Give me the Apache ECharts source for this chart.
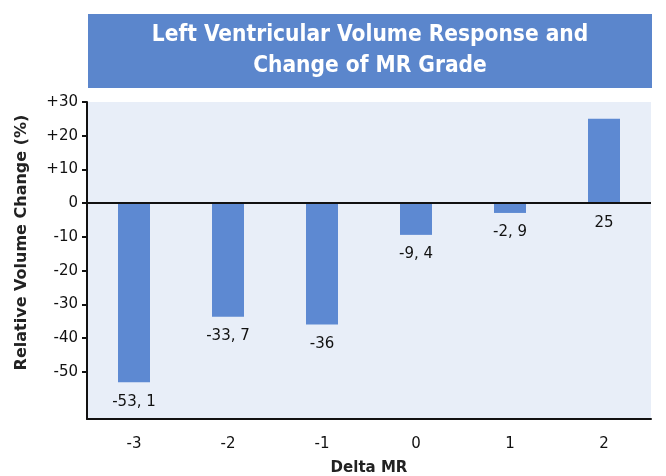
<!DOCTYPE html>
<html>
<head>
<meta charset="utf-8">
<script src="https://cdn.jsdelivr.net/npm/echarts@6/dist/echarts.min.js"></script>
<style>
html,body{margin:0;padding:0;background:#fff;}
#c{width:666px;height:476px;}
</style>
</head>
<body>
<div id="c"></div>
<script>
const titleLines = ['Left Ventricular Volume Response and', 'Change of MR Grade'];
const categories = ['-3', '-2', '-1', '0', '1', '2'];
const values = [-53.1, -33.7, -36, -9.4, -2.9, 25];
const yTicks = [30, 20, 10, 0, -10, -20, -30, -40, -50];
const yAxisTitle = 'Relative Volume Change (%)';
const xAxisTitle = 'Delta MR';

const chart = echarts.init(document.getElementById('c'), null, {renderer: 'canvas'});
const FONT = 'DejaVu Sans';
const fmtVal = v => String(v).replace('.', ', ');

chart.setOption({
  animation: false,
  graphic: [
    {type: 'rect', x: 88, y: 14, shape: {width: 564, height: 74}, style: {fill: '#5b86cc'}},
    {type: 'text', x: 370, y: 51, z: 10,
     style: {text: titleLines.join('\n'), fill: '#fff', font: 'bold 22.5px "DejaVu Sans Condensed"',
       align: 'center', verticalAlign: 'middle', lineHeight: 31}}
  ],
  grid: {left: 87, right: 15, top: 102, bottom: 57, show: true, backgroundColor: '#e8eef8', borderWidth: 0,
    containLabel: false, outerBoundsMode: 'none'},
  xAxis: {
    type: 'category', data: categories,
    name: xAxisTitle, nameLocation: 'middle', nameGap: 42,
    nameTextStyle: {color: '#222', fontFamily: FONT, fontWeight: 'bold', fontSize: 15},
    axisLine: {onZero: false, lineStyle: {color: '#111', width: 2}},
    axisTick: {length: 5, lineStyle: {color: '#111', width: 2}},
    axisLabel: {color: '#111', fontFamily: FONT, fontSize: 15, margin: 18}
  },
  yAxis: {
    type: 'value', min: -64, max: 30,
    name: yAxisTitle, nameLocation: 'middle', nameGap: 57, nameRotate: 90,
    nameTextStyle: {color: '#222', fontFamily: FONT, fontWeight: 'bold', fontSize: 16, padding: [0, 0, 0, 36]},
    splitLine: {show: false},
    axisLine: {show: true, lineStyle: {color: '#111', width: 2}},
    axisTick: {show: true, length: 5, lineStyle: {color: '#111', width: 2}, customValues: yTicks},
    axisLabel: {color: '#111', fontFamily: FONT, fontSize: 15, margin: 9, customValues: yTicks,
      formatter: v => v > 0 ? '+' + v : String(v)}
  },
  series: [{
    type: 'bar',
    data: values,
    barWidth: 32,
    itemStyle: {color: '#5d89d2'},
    label: {show: true, position: 'bottom', distance: 12, color: '#111', fontFamily: FONT, fontSize: 15,
      formatter: p => fmtVal(p.value)},
    markLine: {
      silent: true, symbol: 'none', label: {show: false},
      lineStyle: {color: '#111', width: 2, type: 'solid'},
      data: [{yAxis: 0}]
    }
  }]
});
</script>
</body>
</html>
